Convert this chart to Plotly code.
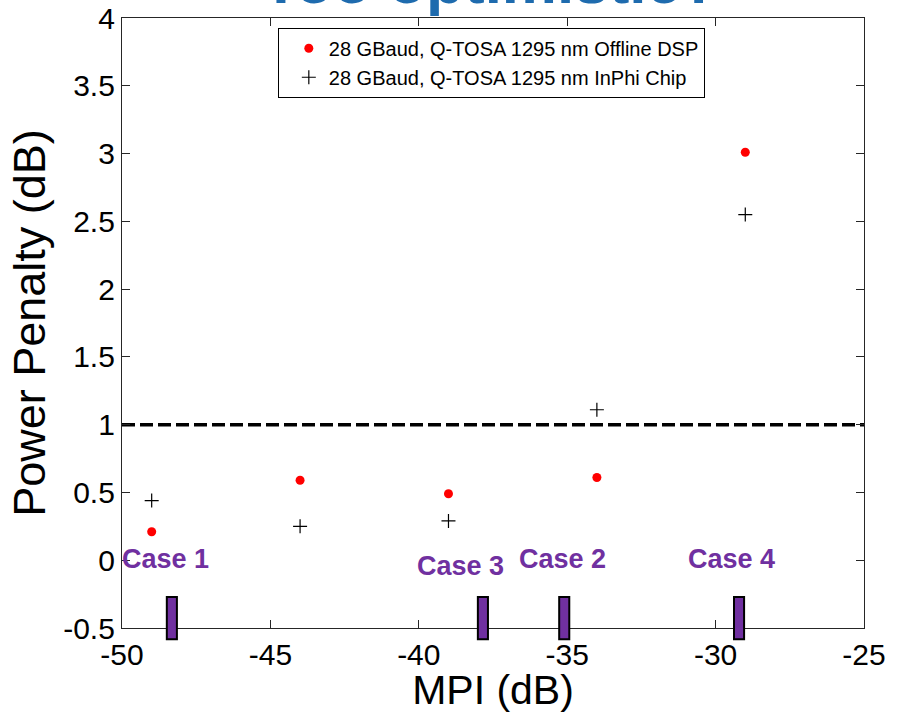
import plotly.graph_objects as go

# Data
mpi = [-49, -44, -39, -34, -29]
penalty_dsp = [0.21, 0.59, 0.49, 0.61, 3.01]
penalty_chip = [0.44, 0.25, 0.29, 1.11, 2.55]
threshold_x = [-50, -25]
threshold_y = [1, 1]

case_labels = ["Case 1", "Case 3", "Case 2", "Case 4"]
case_label_x = [-48.55, -38.6, -35.17, -29.45]
case_label_y = [0.01, -0.04, 0.01, 0.01]
case_mpi = [-48.32, -37.84, -35.1, -29.21]

x_ticks = [-50, -45, -40, -35, -30, -25]
y_ticks = [-0.5, 0, 0.5, 1, 1.5, 2, 2.5, 3, 3.5, 4]
y_ticklabels = ["-0.5", "0", "0.5", "1", "1.5", "2", "2.5", "3", "3.5", "4"]

FONT = "Liberation Sans, Arial, sans-serif"
PURPLE = "#7030A0"

fig = go.Figure()
fig.add_trace(go.Scatter(
    x=threshold_x, y=threshold_y, mode="lines", showlegend=False,
    line=dict(color="black", width=3.5, dash="13px,5px"), hoverinfo="skip"))
fig.add_trace(go.Scatter(
    x=mpi, y=penalty_dsp, mode="markers",
    name="28 GBaud, Q-TOSA 1295 nm Offline DSP",
    marker=dict(symbol="circle", color="#FF0000", size=9)))
fig.add_trace(go.Scatter(
    x=mpi, y=penalty_chip, mode="markers",
    name="28 GBaud, Q-TOSA 1295 nm InPhi Chip",
    marker=dict(symbol="cross-thin", size=10, line=dict(color="black", width=1.2), color="black")))

for xc in case_mpi:
    fig.add_shape(type="rect", xref="x", yref="paper",
                  x0=xc - 0.17, x1=xc + 0.17, y0=-0.0185, y1=0.0508,
                  fillcolor=PURPLE, line=dict(color="black", width=2), layer="above")

for txt, xx, yy in zip(case_labels, case_label_x, case_label_y):
    fig.add_annotation(x=xx, y=yy, xref="x", yref="y", text="<b>" + txt + "</b>",
                       showarrow=False, xanchor="center", yanchor="middle",
                       font=dict(family="Liberation Sans Narrow, Arial Narrow, " + FONT,
                                 size=27, color=PURPLE))

fig.add_annotation(x=0.496, y=1.0, xref="paper", yref="paper", text="<b>Too optimistic?</b>",
                   showarrow=False, xanchor="center", yanchor="bottom", yshift=0,
                   font=dict(family=FONT, size=62, color="#1E6BAE"))

axis_common = dict(showline=True, linecolor="#262626", linewidth=1.2, mirror="ticks",
                   ticks="inside", ticklen=8, tickcolor="#262626", tickwidth=1,
                   showgrid=False, zeroline=False,
                   tickfont=dict(family=FONT, size=30, color="black"))

fig.update_xaxes(range=[-50, -25], tickvals=x_ticks, ticktext=[str(v) for v in x_ticks],
                 title=dict(text="MPI (dB)", font=dict(family=FONT, size=41, color="black"), standoff=2),
                 **axis_common)
fig.update_yaxes(range=[-0.5, 4], tickvals=y_ticks, ticktext=y_ticklabels,
                 title=dict(text="Power Penalty (dB)", font=dict(family=FONT, size=45, color="black"), standoff=3),
                 **axis_common)

fig.update_layout(
    width=902, height=713,
    margin=dict(l=122, r=38, t=18, b=85, autoexpand=False),
    paper_bgcolor="white", plot_bgcolor="white",
    font=dict(family=FONT),
    legend=dict(x=0.21, y=0.984, xanchor="left", yanchor="top",
                bgcolor="white", bordercolor="black", borderwidth=1,
                font=dict(family=FONT, size=20, color="black"),
                indentation=10, itemsizing="trace", tracegroupgap=0),
)

fig.write_html("out.html")
